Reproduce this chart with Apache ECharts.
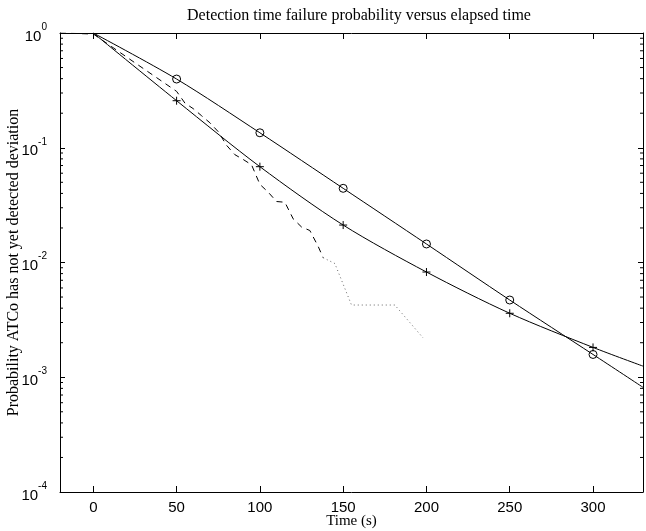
<!DOCTYPE html>
<html>
<head>
  <meta charset="utf-8">
  <style>
    html, body { margin: 0; padding: 0; width: 100%; height: 100%; overflow: hidden; background: #fff; }
  </style>
</head>
<body>
  <div id="container" style="width: 646px; height: 531px;"></div>
  <script src="https://cdn.jsdelivr.net/npm/echarts@6/dist/echarts.min.js"></script>
  <script>
    // model curves (markers every 50 s, curve runs to the right edge)
    const modelTime = [0, 50, 100, 150, 200, 250, 300, 330];
    const circleProb = [1, 0.397, 0.135, 0.0443, 0.0145, 0.00471, 0.00158, 0.000817];
    const plusProb = [1, 0.257, 0.0684, 0.0212, 0.00826, 0.00361, 0.00182, 0.00125];

    // empirical curve, dashed part
    const empTime = [-20, 0, 25, 50, 55, 60, 65, 70, 75, 80, 85, 90, 95, 100, 105, 110, 115, 120, 125, 130, 135, 138];
    const empProb = [1, 0.98, 0.55, 0.31, 0.245, 0.219, 0.19, 0.165, 0.138, 0.105, 0.087, 0.079, 0.071, 0.048, 0.041, 0.034, 0.0335, 0.024, 0.0204, 0.019, 0.0138, 0.011];

    // empirical curve, dotted tail
    const tailTime = [138, 145, 155, 181, 198];
    const tailProb = [0.011, 0.0098, 0.00426, 0.00426, 0.0022];

    const xTicks = [0, 50, 100, 150, 200, 250, 300];
    const xMin = -20, xMax = 330;
    const decades = [0.0001, 0.001, 0.01, 0.1];
    const minorSteps = [2, 3, 4, 5, 6, 7, 8, 9];

    const minorTicks = [];
    decades.forEach(d => minorSteps.forEach(m => minorTicks.push(m * d)));

    const dom = document.getElementById('container');
    const myChart = echarts.init(dom, null, { renderer: 'canvas' });

    function markedData(ys) {
      return modelTime.map((t, i) => {
        const item = { value: [t, ys[i]] };
        if (t === 0 || t === 330) item.symbol = 'none';
        return item;
      });
    }

    const sans = 'Liberation Sans';
    const serif = 'Liberation Serif';
    const frame = { show: true, onZero: false, lineStyle: { color: '#000', width: 1 } };

    const yLabel = {
      show: true,
      margin: 13,
      formatter: function (v) {
        const e = Math.round(Math.log10(v));
        return '{b|10}{s|' + e + '}';
      },
      rich: {
        b: { fontSize: 15, fontFamily: sans, color: '#000', verticalAlign: 'bottom', lineHeight: 22 },
        s: { fontSize: 10, fontFamily: sans, color: '#000', verticalAlign: 'top', lineHeight: 22 }
      }
    };

    const option = {
      animation: false,
      title: {
        text: 'Detection time failure probability versus elapsed time',
        left: 354,
        textAlign: 'center',
        top: 3,
        textStyle: { fontFamily: serif, fontSize: 16, fontWeight: 'normal', color: '#000' }
      },
      grid: { left: 60, right: 3, top: 33, bottom: 39, containLabel: false, outerBoundsMode: 'none' },
      xAxis: [
        {
          type: 'value', min: xMin, max: xMax, position: 'bottom',
          name: 'Time (s)', nameLocation: 'middle', nameGap: 22, nameMoveOverlap: false,
          nameTextStyle: { fontFamily: serif, fontSize: 15, color: '#000' },
          splitLine: { show: false },
          axisLine: frame,
          axisTick: { inside: true, length: 6, customValues: xTicks, lineStyle: { color: '#000' } },
          axisLabel: { customValues: xTicks, margin: 8, fontFamily: sans, fontSize: 15, color: '#000' }
        },
        {
          type: 'value', min: xMin, max: xMax, position: 'top',
          splitLine: { show: false },
          axisLine: frame,
          axisTick: { inside: true, length: 6, customValues: xTicks, lineStyle: { color: '#000' } },
          axisLabel: { show: false }
        }
      ],
      yAxis: [
        {
          type: 'log', logBase: 10, min: 0.0001, max: 1, splitNumber: 4, position: 'left',
          name: 'Probability ATCo has not yet detected deviation',
          nameLocation: 'middle', nameGap: 38, nameRotate: 90, nameMoveOverlap: false,
          nameTextStyle: { fontFamily: serif, fontSize: 16, color: '#000' },
          splitLine: { show: false },
          axisLine: frame,
          axisTick: { inside: true, length: 5, lineStyle: { color: '#000' } },
          axisLabel: yLabel
        },
        {
          type: 'log', logBase: 10, min: 0.0001, max: 1, splitNumber: 4, position: 'right',
          splitLine: { show: false },
          axisLine: frame,
          axisTick: { inside: true, length: 5, lineStyle: { color: '#000' } },
          axisLabel: { show: false }
        }
      ],
      series: [
        {
          name: 'circles', type: 'line', data: markedData(circleProb),
          smooth: 0.3, showAllSymbol: true,
          symbol: 'circle', symbolSize: 8,
          itemStyle: { color: 'none', borderColor: '#000', borderWidth: 1 },
          lineStyle: { color: '#000', width: 1 },
          emphasis: { disabled: true }
        },
        {
          name: 'plus', type: 'line', data: markedData(plusProb),
          smooth: 0.3, showAllSymbol: true,
          symbol: 'path://M4,0V8M0,4H8', symbolSize: 8,
          itemStyle: { color: 'none', borderColor: '#000', borderWidth: 1 },
          lineStyle: { color: '#000', width: 1 },
          emphasis: { disabled: true }
        },
        {
          name: 'observed', type: 'line', symbol: 'none',
          data: empTime.map((t, i) => [t, empProb[i]]),
          lineStyle: { color: '#000', width: 1, type: [6, 5] },
          emphasis: { disabled: true }
        },
        {
          name: 'observed tail', type: 'line', symbol: 'none',
          data: tailTime.map((t, i) => [t, tailProb[i]]),
          lineStyle: { color: '#666', width: 1, type: [1, 3] },
          emphasis: { disabled: true }
        },
        {
          // minor log ticks on the left and right frame
          name: 'minor ticks', type: 'custom', silent: true, clip: false,
          data: minorTicks.map(v => [xMin, v]),
          encode: { x: 0, y: 1 },
          renderItem: function (params, api) {
            const v = api.value(1);
            const l = api.coord([xMin, v]);
            const r = api.coord([xMax, v]);
            return {
              type: 'group',
              children: [
                { type: 'line', shape: { x1: l[0], y1: l[1], x2: l[0] + 3, y2: l[1] }, style: { stroke: '#000', lineWidth: 1 } },
                { type: 'line', shape: { x1: r[0], y1: r[1], x2: r[0] - 3, y2: r[1] }, style: { stroke: '#000', lineWidth: 1 } }
              ]
            };
          }
        }
      ]
    };

    myChart.setOption(option);
    window.addEventListener('resize', myChart.resize);
  </script>
</body>
</html>
